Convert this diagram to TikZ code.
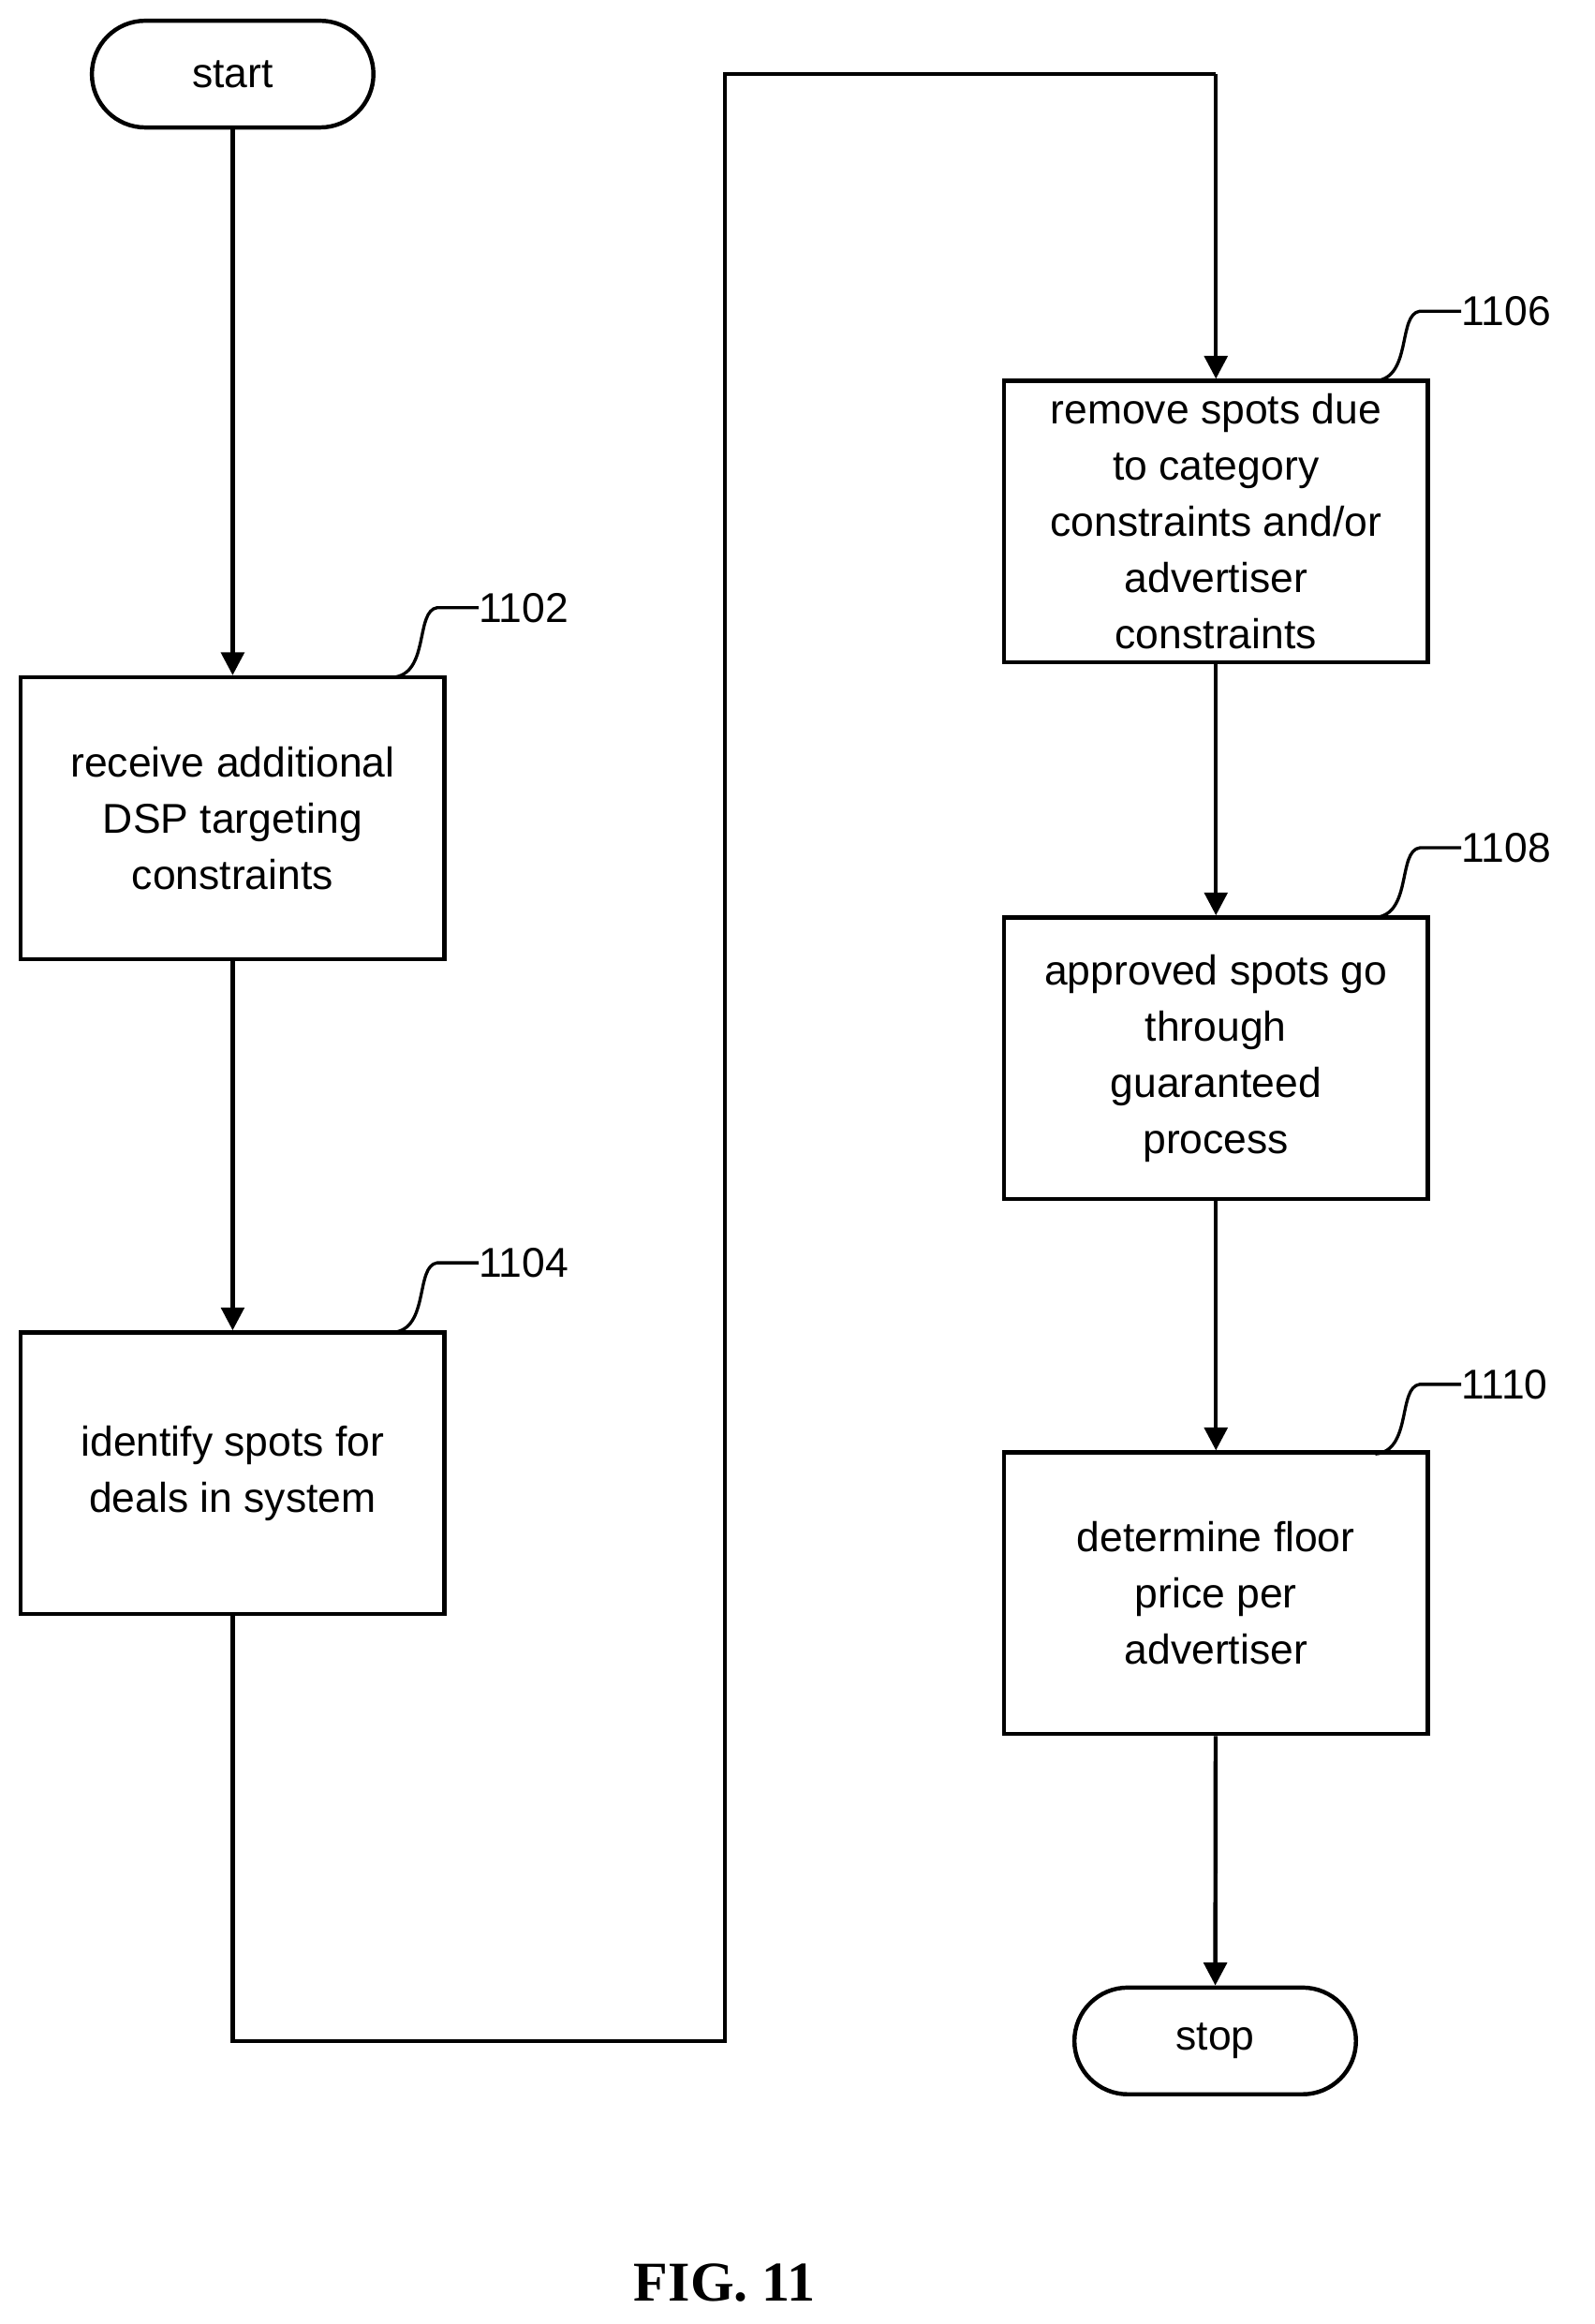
\documentclass[tikz,border=0pt]{standalone}
\usepackage{fontspec}
\setmainfont{Liberation Sans}
\newfontfamily\figfont{Liberation Serif}
\usetikzlibrary{arrows.meta}
\begin{document}
\begin{tikzpicture}[x=0.05cm,y=-0.05cm,
  every node/.style={font=\fontsize{40}{54}\selectfont},
  box/.style={draw,line width=4pt,minimum width=14.3cm,minimum height=9.5cm,align=center,inner sep=0pt},
  term/.style={draw,line width=4pt,rounded corners=1.8cm,minimum width=9.5cm,minimum height=3.6cm},
  ln/.style={line width=4pt},
  arr/.style={ln,-{Triangle[length=22pt,width=22pt]}},
  lab/.style={anchor=west,inner sep=0pt}]
\useasboundingbox (0,0) rectangle (1076,1568);
\node[term] (start) at (157,50) {start};
\node[box] (b1) at (157,552) {receive additional\\DSP targeting\\constraints};
\node[box] (b2) at (157,994) {identify spots for\\deals in system};
\node[box] (b3) at (820.5,352) {remove spots due\\to category\\constraints and/or\\advertiser\\constraints};
\node[box] (b4) at (820.5,714) {approved spots go\\through\\guaranteed\\process};
\node[box] (b5) at (820.5,1075) {determine floor\\price per\\advertiser};
\node[term] (stop) at (820,1377) {stop};
\coordinate (c1) at (157,1377);
\coordinate (c2) at (489,1377);
\coordinate (c3) at (489,50);
\coordinate (c4) at (820.5,50);
\draw[arr] (start) -- (b1);
\draw[arr] (b1) -- (b2);
\draw[ln] (b2.south) -- (c1) -- (c2) -- (c3) -- (c4);
\draw[arr] (c4) -- (b3.north);
\draw[arr] (b3) -- (b4);
\draw[arr] (b4) -- (b5);
\draw[arr] (b5) -- (stop);
\foreach \n/\x/\y/\t in {l1/265/457/1102,l2/265/899/1104,l3/928/257/1106,l4/928/619/1108,l5/928/981/1110}{
  \node[lab] (\n) at (\x+58,\y-47) {\t};
  \draw[line width=3pt] (\x,\y) .. controls (\x+25,\y-2) and (\x+15,\y-45) .. (\x+30,\y-47) -- (\n.west);
}
\node[font=\figfont\bfseries\fontsize{54}{60}\selectfont] (fig) at (489,1540) {FIG. 11};
\end{tikzpicture}
\end{document}
